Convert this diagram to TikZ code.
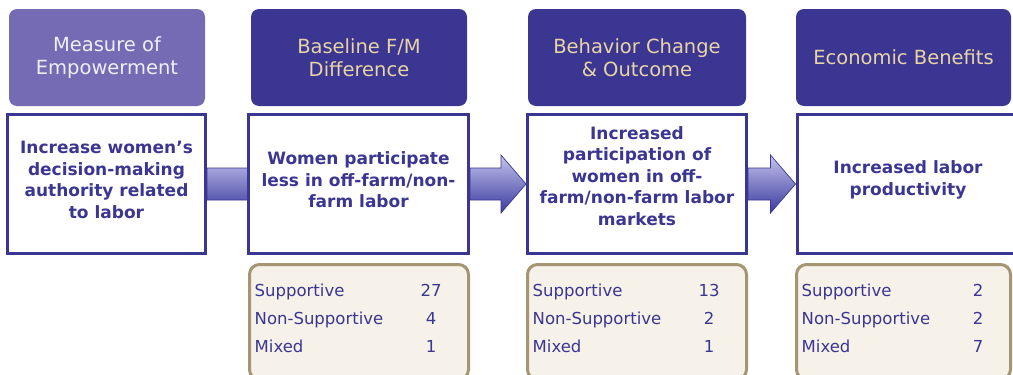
\documentclass[tikz,border=0pt]{standalone}
\usepackage{fontspec}
\setmainfont{DejaVu Sans}
\usepackage{xcolor}
\usetikzlibrary{calc, positioning, backgrounds}

\definecolor{navy}{RGB}{59,54,146}
\definecolor{lavhead}{RGB}{117,106,180}
\definecolor{headtan}{RGB}{232,212,165}
\definecolor{headpale}{RGB}{240,238,248}
\definecolor{tallyfill}{RGB}{246,241,233}
\definecolor{tallyedge}{RGB}{166,149,114}
\definecolor{shadetop}{RGB}{196,196,238}
\definecolor{shadebot}{RGB}{58,58,158}

\tikzset{
  headbox/.style={fill=navy, rounded corners=8pt, minimum height=97pt, inner sep=0pt,
    align=center, text=headtan, font=\fontsize{19.5}{23}\selectfont},
  bodybox/.style={draw=navy, line width=3pt, fill=white, minimum height=139pt, inner sep=0pt,
    align=center, text=navy, font=\bfseries\fontsize{17}{21.5}\selectfont},
  tallybox/.style={draw=tallyedge, fill=tallyfill, line width=3pt, rounded corners=10pt,
    minimum height=115pt, inner sep=0pt},
  tallylab/.style={anchor=base west, inner sep=0pt, text=navy, font=\fontsize{16.5}{20}\selectfont},
  tallynum/.style={anchor=base, inner sep=0pt, text=navy, font=\fontsize{16.5}{20}\selectfont},
  flowarr/.style={draw=navy, line width=0.7pt, top color=shadetop, bottom color=shadebot},
}

% block arrow from one point to a tip
\newcommand{\flowarrow}[2]{%
  \draw[flowarr] ($#1+(0,-16)$) -- ($#2+(-25,-16)$) -- ($#2+(-25,-29)$) -- #2
    -- ($#2+(-25,29)$) -- ($#2+(-25,16)$) -- ($#1+(0,16)$) -- cycle;}

\begin{document}
\begin{tikzpicture}[x=1pt, y=-1pt]
\useasboundingbox (0,0) rectangle (1013,375);

% column headers
\node[headbox, fill=lavhead, text=headpale, minimum width=196pt] (hdA) at (107,57.5) {Measure of\\Empowerment};
\node[headbox, minimum width=216pt] (hdB) at (359,57.5) {Baseline F/M\\Difference};
\node[headbox, minimum width=218pt] (hdC) at (637,57.5) {Behavior Change\\\& Outcome};
\node[headbox, minimum width=215pt] (hdD) at (903.5,57.5) {Economic Benefits};

% statement boxes (text depth lifts the text a little)
\node[bodybox, minimum width=198pt, text depth=8pt] (bdA) at (106.5,184) {Increase women's\\decision-making\\authority related\\to labor};
\node[bodybox, minimum width=220pt, text depth=8pt] (bdB) at (358.5,184) {Women participate\\less in off-farm/non-\\farm labor};
\node[bodybox, minimum width=219pt, text depth=16pt] (bdC) at (637,184) {Increased\\participation of\\women in off-\\farm/non-farm labor\\markets};
\node[bodybox, minimum width=222pt, text depth=12pt] (bdD) at (908,184) {Increased labor\\productivity};

% arrows between the boxes
\coordinate (tipA) at ($(bdB.west)+(27,0)$);
\begin{scope}[on background layer]
\fill[white] (0,0) rectangle (1013,375);
\flowarrow{(bdA.east)}{(tipA)}
\flowarrow{(bdB.east)}{(bdC.west)}
\flowarrow{(bdC.east)}{(bdD.west)}
\end{scope}

% tallies of studies
\node[tallybox, minimum width=219pt] (tbA) at (359,322) {};
\node[tallybox, minimum width=219pt] (tbB) at (637,322) {};
\node[tallybox, minimum width=214pt] (tbC) at (903.5,322) {};
\foreach \tb/\nsup/\nnon/\nmix in {tbA/27/4/1, tbB/13/2/1, tbC/2/2/7} {
  \node[tallylab] (\tb-s) at ($(\tb.north west)+(6.5,33.5)$) {Supportive};
  \node[tallylab] (\tb-n) at ($(\tb.north west)+(6.5,61.5)$) {Non-Supportive};
  \node[tallylab] (\tb-m) at ($(\tb.north west)+(6.5,89.5)$) {Mixed};
  \node[tallynum] (\tb-sv) at ($(\tb.north west)+(183,33.5)$) {\nsup};
  \node[tallynum] (\tb-nv) at ($(\tb.north west)+(183,61.5)$) {\nnon};
  \node[tallynum] (\tb-mv) at ($(\tb.north west)+(183,89.5)$) {\nmix};
}
\end{tikzpicture}
\end{document}
